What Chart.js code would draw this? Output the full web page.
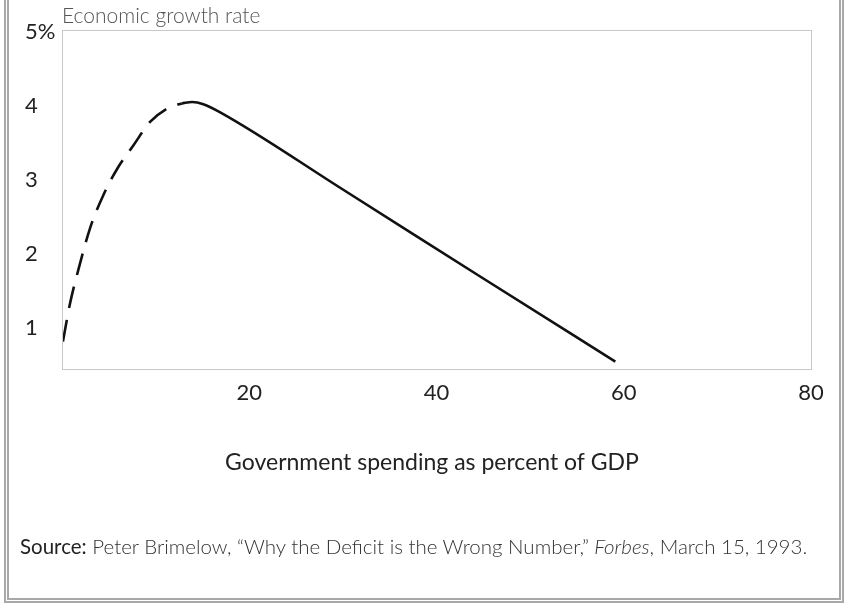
<!DOCTYPE html>
<html>
<head>
<meta charset="utf-8">
<script src="https://cdn.jsdelivr.net/npm/chart.js@4"></script>
<style>
  body { margin: 0; background: #fff; }
  #wrap { position: relative; width: 850px; height: 610px; overflow: hidden; }
  #frame {
    position: absolute; left: 4px; right: 6px; top: -10px; height: 613px;
    box-sizing: border-box; border: 5px double #a8a8a8;
  }
  #source {
    position: absolute; left: 20px; top: 534px;
    font-family: Lato, sans-serif; font-size: 20.5px; color: #333; font-weight: 300;
    white-space: nowrap;
  }
  #source b { font-weight: 400; color: #222; }
  canvas { position: absolute; left: 0; top: 0; }
</style>
</head>
<body>
<div id="wrap">
  <div id="frame"></div>
  <canvas id="chartCurva" width="850" height="610"></canvas>
  <div id="source"><b>Source:</b> Peter Brimelow, “Why the Deficit is the Wrong Number,” <i>Forbes</i>, March 15, 1993.</div>
</div>
<script>
/* datos */
const tramoPunteadoX = [0.1, 0.85, 1.9, 3.0, 4.4, 5.9, 7.6, 9.4, 11.5, 12.8];
const tramoPunteadoY = [0.82, 1.33, 1.86, 2.35, 2.79, 3.15, 3.46, 3.78, 3.98, 4.03];
const tramoSolidoX = [12.8, 13.9, 15.1, 16.9, 30, 45, 59.1];
const tramoSolidoY = [4.03, 4.05, 4.02, 3.91, 2.87, 1.67, 0.55];
const ticksX = [20, 40, 60, 80];
const ticksY = [1, 2, 3, 4, 5];

const tituloY = "Economic growth rate";
const tituloX = "Government spending as percent of GDP";

const toPoints = (xs, ys) => xs.map((x, i) => ({ x: x, y: ys[i] }));

/* textos y marco del area */
const extras = {
  id: "extras",
  afterDraw(chart) {
    const { ctx, chartArea } = chart;
    ctx.save();
    ctx.strokeStyle = "#c8c8c8";
    ctx.lineWidth = 1;
    ctx.strokeRect(chartArea.left + 0.5, chartArea.top + 0.5,
      chartArea.right - chartArea.left, chartArea.bottom - chartArea.top);

    ctx.fillStyle = "#555";
    ctx.font = "300 21px Lato, sans-serif";
    ctx.textAlign = "left";
    ctx.textBaseline = "alphabetic";
    ctx.fillText(tituloY, chartArea.left, 23);

    ctx.fillStyle = "#222";
    ctx.font = "400 23px Lato, sans-serif";
    ctx.textAlign = "center";
    ctx.textBaseline = "middle";
    ctx.fillText(tituloX, 432, 463);
    ctx.restore();
  },
};

const context = document.getElementById("chartCurva").getContext("2d");

const chartCurva = new Chart(context, {
  type: "line",
  data: {
    datasets: [
      {
        data: toPoints(tramoPunteadoX, tramoPunteadoY),
        borderColor: "#111",
        borderWidth: 2.6,
        borderDash: [22, 12],
        pointRadius: 0,
        cubicInterpolationMode: "monotone",
      },
      {
        data: toPoints(tramoSolidoX, tramoSolidoY),
        borderColor: "#111",
        borderWidth: 2.6,
        pointRadius: 0,
        cubicInterpolationMode: "monotone",
      },
    ],
  },
  options: {
    responsive: false,
    animation: false,
    layout: { padding: { top: 30, right: 39, left: 25, bottom: 0 } },
    plugins: { legend: { display: false }, tooltip: { enabled: false } },
    scales: {
      x: {
        type: "linear",
        min: 0,
        max: 80,
        grid: { display: false, drawTicks: false },
        border: { display: false },
        afterBuildTicks: (scale) => {
          scale.ticks = ticksX.map((v) => ({ value: v }));
        },
        afterFit: (scale) => {
          scale.height = 241;
        },
        ticks: {
          color: "#222",
          font: { family: "Lato", size: 22 },
          padding: 11,
          maxRotation: 0,
        },
      },
      y: {
        min: 0.45,
        max: 5.02,
        grid: { display: false, drawTicks: false },
        border: { display: false },
        afterBuildTicks: (scale) => {
          scale.ticks = ticksY.map((v) => ({ value: v }));
        },
        afterFit: (scale) => {
          scale.width = 37;
        },
        ticks: {
          color: "#222",
          font: { family: "Lato", size: 22 },
          crossAlign: "far",
          callback: (v) => (v === 5 ? "5%" : v),
        },
      },
    },
  },
  plugins: [extras],
});
</script>
</body>
</html>
